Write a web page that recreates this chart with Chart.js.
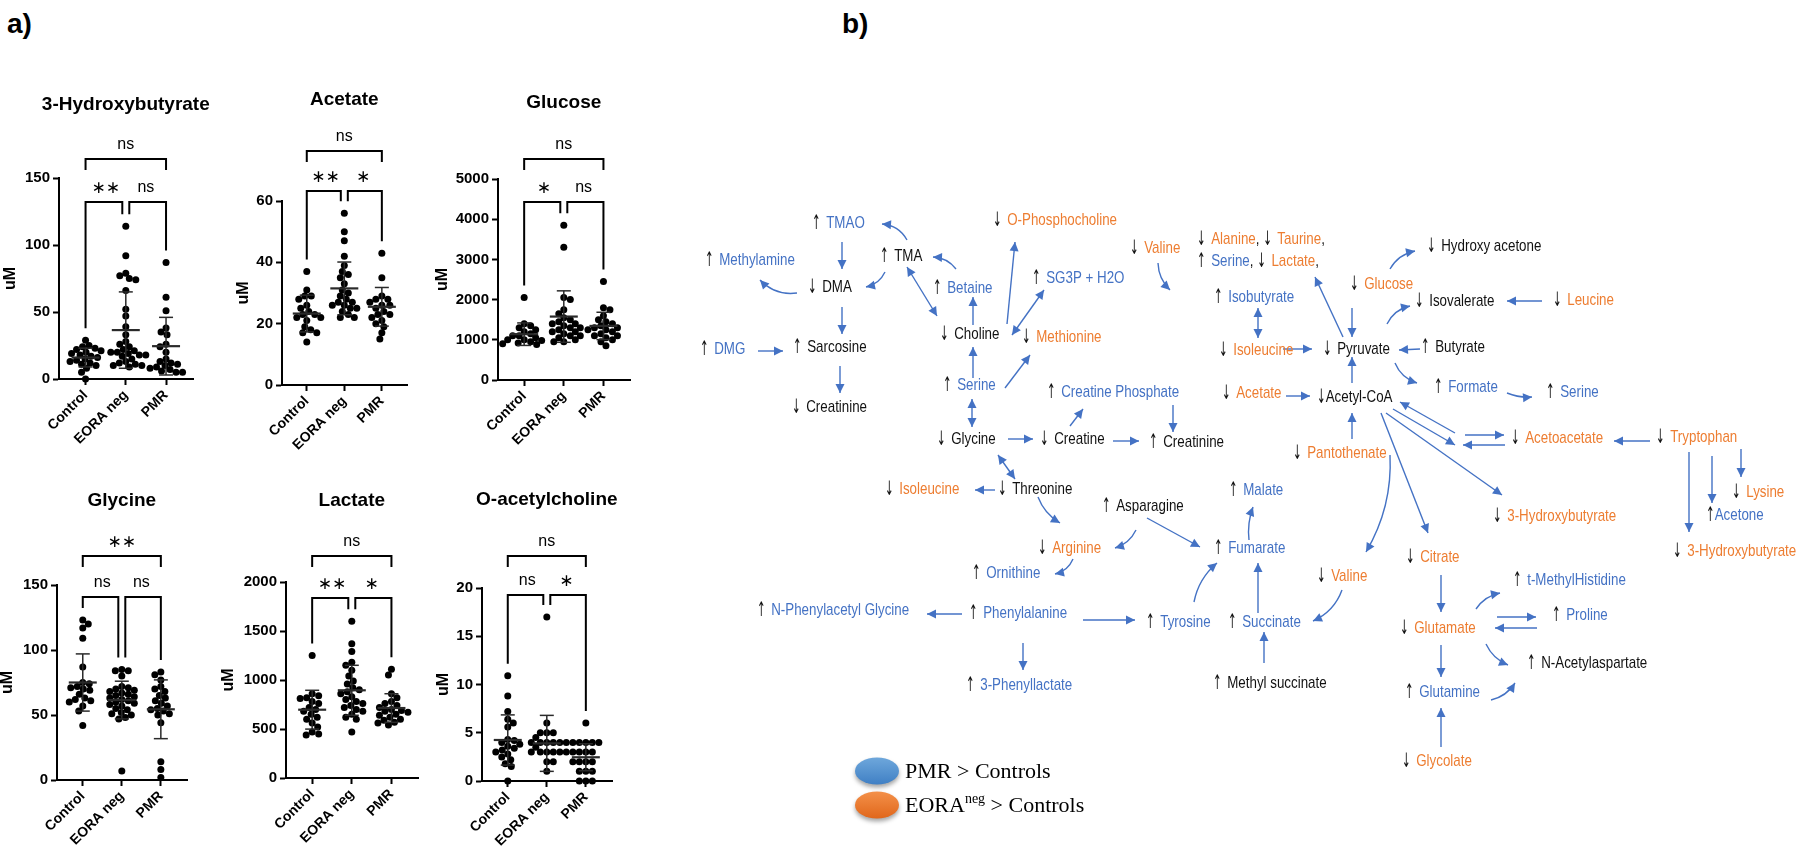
<!DOCTYPE html>
<html>
<head>
<meta charset="utf-8">
<script src="https://cdn.jsdelivr.net/npm/chart.js@4.4.0/dist/chart.umd.min.js"></script>
<style>
html, body { margin: 0; padding: 0; background: #fff; }
body { width: 1800px; height: 853px; position: relative; overflow: hidden; font-family: "Liberation Sans", Arial, sans-serif; }
.panel-tag { position: absolute; font-weight: bold; font-size: 28px; line-height: 30px; color: #000; }
canvas { position: absolute; }
</style>
</head>
<body>
<div class="panel-tag" style="left:7px; top:9px;">a)</div>
<div class="panel-tag" style="left:842px; top:9px;">b)</div>

<script>
/* ---------- panel a: dot plots ---------- */
const groupLabels = ['Control', 'EORA neg', 'PMR'];
const chartTitles = ['3-Hydroxybutyrate', 'Acetate', 'Glucose', 'Glycine', 'Lactate', 'O-acetylcholine'];

const hbControl = [29, 25, 24, 23, 22, 21, 20, 19, 18, 17, 16, 15, 14, 13, 12, 11, 10, 8, 5, 0];
const hbEora = [114, 92, 79, 77, 75, 74, 66, 52, 47, 39, 33, 28, 26, 24, 22, 21, 20, 20, 19, 18, 18, 17, 15, 13, 12, 11, 10, 10, 9];
const hbPmr = [87, 61, 51, 38, 35, 33, 26, 24, 20, 15, 13, 12, 11, 10, 9, 8, 7, 6, 5, 5];

const acetControl = [37, 31, 29, 29, 28, 26, 25, 24, 23, 23, 22, 22, 21, 19, 18, 17, 17, 14];
const acetEora = [56, 50, 47, 42, 39, 37, 36, 35, 33, 31, 30, 29, 28, 27, 27, 26, 26, 25, 25, 24, 23, 22, 22];
const acetPmr = [43, 35, 29, 28, 28, 27, 26, 26, 25, 24, 23, 23, 22, 21, 20, 19, 17, 15];

const glucControl = [2050, 1400, 1350, 1300, 1250, 1200, 1150, 1100, 1100, 1050, 1000, 1000, 980, 950, 920, 900, 880];
const glucEora = [3850, 3300, 2050, 2000, 1750, 1650, 1550, 1500, 1450, 1400, 1400, 1350, 1300, 1300, 1250, 1200, 1200, 1150, 1100, 1100, 1050, 1000, 950, 950];
const glucPmr = [2450, 1800, 1750, 1600, 1500, 1450, 1400, 1350, 1300, 1300, 1250, 1250, 1200, 1150, 1100, 1100, 1050, 1000, 950, 850];

const glyControl = [123, 120, 117, 109, 87, 75, 74, 72, 71, 70, 69, 66, 63, 62, 61, 60, 57, 53, 42];
const glyEora = [85, 84, 84, 80, 72, 71, 70, 69, 68, 67, 66, 65, 64, 63, 62, 61, 60, 59, 58, 57, 55, 54, 52, 51, 50, 48, 47, 7];
const glyPmr = [83, 81, 77, 72, 70, 68, 65, 63, 61, 59, 57, 55, 54, 53, 51, 50, 44, 14, 8, 2];

const lacControl = [1250, 860, 840, 820, 810, 780, 760, 720, 700, 680, 650, 620, 600, 560, 520, 470, 450, 440];
const lacEora = [1600, 1370, 1290, 1180, 1150, 1100, 1040, 990, 960, 920, 900, 880, 860, 830, 800, 780, 760, 740, 720, 700, 680, 650, 620, 600, 470];
const lacPmr = [1110, 1050, 860, 820, 780, 760, 740, 720, 700, 690, 680, 670, 650, 640, 620, 600, 590, 570, 560, 540];

const achControl = [10.9, 8.8, 7.2, 6.4, 6.0, 5.6, 4.3, 4.2, 4.0, 3.8, 3.6, 3.4, 3.2, 3.0, 2.8, 2.5, 2.2, 1.8, 1.5, 0];
const achEora = [17, 6, 5, 5, 5, 4.5, 4, 4, 4, 4, 4, 4, 3.5, 3, 3, 3, 3, 3, 3, 2, 2, 1];
const achPmr = [6, 4, 4, 4, 4, 4, 3, 3, 3, 3, 2, 2, 2, 2, 1, 1, 1, 0, 0, 0];

const groupMeans = [[16, 36.5, 24.5], [23.3, 31.5, 25.5], [1140, 1578, 1345], [75, 61.5, 54.4], [697, 895, 714], [4.25, 3.9, 2.46]];
const groupSds = [[7, 28.5, 21.5], [6, 8.6, 6.3], [280, 640, 340], [22, 14.5, 22.6], [198, 255, 146], [2.6, 2.9, 1.4]];

const yMaxes = [150, 60, 5000, 150, 2000, 20];
const ySteps = [50, 20, 1000, 50, 500, 5];

const sigTop = ['ns', 'ns', 'ns', '**', 'ns', 'ns'];
const sigLeft = ['**', '**', '*', 'ns', '**', 'ns'];
const sigRight = ['ns', '*', 'ns', 'ns', '*', '*'];

const allValues = [
  [hbControl, hbEora, hbPmr],
  [acetControl, acetEora, acetPmr],
  [glucControl, glucEora, glucPmr],
  [glyControl, glyEora, glyPmr],
  [lacControl, lacEora, lacPmr],
  [achControl, achEora, achPmr]
];

// layout (page px): plot area left, top, right, bottom
const plotBoxes = [
  [59, 178, 193, 379], [282, 201, 407, 385], [498, 179, 630, 380],
  [57, 585, 187, 780], [286, 582, 418, 778], [482, 588, 612, 781]
];
const yAxisWidth = [58, 48, 65, 59, 67, 48];
const titleY = [105, 100, 103, 501, 501, 500];
const bracketTop = [-19, -50, -20, -29, -26, -32];
const bracketInner = [24, -10, 23, 12, 16, 7];

const X_MIN = -0.66, X_MAX = 2.67;
const PAD_TOP = 115, PAD_RIGHT = 30, X_AXIS_H = 70;
const DOT_R = 3.5;

Chart.defaults.font.family = '"Liberation Sans", Arial, sans-serif';
Chart.defaults.color = '#000';

// spread points sideways so they do not overlap (like a prism scatter)
function swarmOffsets(values, pxPerUnit, pxPerCat) {
  const placed = [];
  const out = new Array(values.length);
  const order = values.map((v, i) => i).sort((a, b) => values[b] - values[a]);
  const minDist = 2 * DOT_R - 0.6;
  for (const i of order) {
    const yp = values[i] * pxPerUnit;
    let chosen = 0;
    for (let k = 0; k < 80; k++) {
      const step = k * 0.5;
      const cands = k === 0 ? [0] : (k % 2 ? [step, -step] : [-step, step]);
      const ok = cands.find(c => placed.every(p => Math.hypot(p.x - c, p.y - yp) >= minDist));
      if (ok !== undefined) { chosen = ok; break; }
    }
    placed.push({ x: chosen, y: yp });
    out[i] = chosen / pxPerCat;
  }
  return out;
}

function drawLine(ctx, pts) {
  ctx.beginPath();
  ctx.moveTo(pts[0][0], pts[0][1]);
  for (let k = 1; k < pts.length; k++) ctx.lineTo(pts[k][0], pts[k][1]);
  ctx.stroke();
}

function drawSig(ctx, text, x, y) {
  if (text.includes('*')) {
    ctx.font = '17px "DejaVu Sans", sans-serif';
    ctx.fillText(text.replace(/\*/g, '\u2217'), x, y + 1);
  } else {
    ctx.font = '16px "Liberation Sans", Arial, sans-serif';
    ctx.fillText(text, x, y);
  }
}

const dotExtras = {
  id: 'dotExtras',
  afterDatasetsDraw(chart, args, opts) {
    const i = opts.index;
    const ctx = chart.ctx, xs = chart.scales.x, ys = chart.scales.y, area = chart.chartArea;
    const cx = [0, 1, 2].map(g => xs.getPixelForValue(g));
    ctx.save();
    ctx.lineCap = 'butt';

    // mean +/- SD
    ctx.strokeStyle = '#2a2a2a';
    for (let g = 0; g < 3; g++) {
      const m = groupMeans[i][g], s = groupSds[i][g];
      const yT = ys.getPixelForValue(m + s), yB = ys.getPixelForValue(Math.max(m - s, 0));
      const yM = ys.getPixelForValue(m);
      ctx.lineWidth = 1.5;
      drawLine(ctx, [[cx[g], yT], [cx[g], yB]]);
      drawLine(ctx, [[cx[g] - 7, yT], [cx[g] + 7, yT]]);
      drawLine(ctx, [[cx[g] - 7, yB], [cx[g] + 7, yB]]);
      ctx.lineWidth = 2.2;
      drawLine(ctx, [[cx[g] - 14, yM], [cx[g] + 14, yM]]);
    }

    // significance brackets
    ctx.strokeStyle = '#000';
    ctx.fillStyle = '#000';
    ctx.lineWidth = 2;
    ctx.textAlign = 'center';
    ctx.textBaseline = 'middle';
    const topY = area.top + bracketTop[i];
    const inY = area.top + bracketInner[i];
    const legEnd = g => Math.max(ys.getPixelForValue(Math.max(...allValues[i][g])) - 12, inY + 6);
    const gap = 3.5;
    drawLine(ctx, [[cx[0], topY + 11], [cx[0], topY], [cx[2], topY], [cx[2], topY + 11]]);
    drawLine(ctx, [[cx[0], legEnd(0)], [cx[0], inY], [cx[1] - gap, inY], [cx[1] - gap, legEnd(1)]]);
    drawLine(ctx, [[cx[1] + gap, legEnd(1)], [cx[1] + gap, inY], [cx[2], inY], [cx[2], legEnd(2)]]);
    drawSig(ctx, sigTop[i], (cx[0] + cx[2]) / 2, topY - 14);
    drawSig(ctx, sigLeft[i], (cx[0] + cx[1]) / 2, inY - 14);
    drawSig(ctx, sigRight[i], (cx[1] + cx[2]) / 2, inY - 14);

    // title
    ctx.font = 'bold 19px "Liberation Sans", Arial, sans-serif';
    ctx.fillText(chartTitles[i], cx[1], area.top + (titleY[i] - plotBoxes[i][1]));
    ctx.restore();
  }
};

function makeDotChart(i) {
  const [l, t, r, b] = plotBoxes[i];
  const yw = yAxisWidth[i];
  const cw = r - l + yw + PAD_RIGHT, ch = b - t + PAD_TOP + X_AXIS_H;
  const canvas = document.createElement('canvas');
  canvas.width = cw; canvas.height = ch;
  canvas.style.left = (l - yw) + 'px';
  canvas.style.top = (t - PAD_TOP) + 'px';
  canvas.style.width = cw + 'px';
  canvas.style.height = ch + 'px';
  document.body.appendChild(canvas);

  const pxPerUnit = (b - t) / yMaxes[i];
  const pxPerCat = (r - l) / (X_MAX - X_MIN);
  const datasets = allValues[i].map((vals, g) => {
    const off = swarmOffsets(vals, pxPerUnit, pxPerCat);
    return {
      label: groupLabels[g],
      data: vals.map((v, k) => ({ x: g + off[k], y: v })),
      pointRadius: DOT_R,
      pointBackgroundColor: '#000',
      pointBorderWidth: 0,
      clip: false
    };
  });

  new Chart(canvas.getContext('2d'), {
    type: 'scatter',
    data: { datasets: datasets },
    options: {
      responsive: false,
      animation: false,
      devicePixelRatio: 1,
      layout: { padding: { top: PAD_TOP, right: PAD_RIGHT, left: 0, bottom: 0 } },
      scales: {
        x: {
          type: 'linear',
          min: X_MIN,
          max: X_MAX,
          afterBuildTicks: s => { s.ticks = [0, 1, 2].map(v => ({ value: v })); },
          afterFit: s => { s.height = X_AXIS_H; },
          grid: { drawOnChartArea: false, drawTicks: true, tickLength: 6, tickWidth: 2, tickColor: '#000' },
          border: { color: '#000', width: 2 },
          ticks: {
            autoSkip: false,
            maxRotation: 45,
            minRotation: 45,
            padding: 2,
            color: '#000',
            font: { size: 14, weight: 'bold' },
            callback: v => groupLabels[v]
          }
        },
        y: {
          min: 0,
          max: yMaxes[i],
          afterFit: s => { s.width = yw; },
          grid: { drawOnChartArea: false, drawTicks: true, tickLength: 6, tickWidth: 2, tickColor: '#000' },
          border: { color: '#000', width: 2 },
          ticks: {
            stepSize: ySteps[i],
            padding: 3,
            color: '#000',
            font: { size: 15, weight: 'bold' },
            callback: v => String(v)
          },
          title: { display: true, text: 'uM', color: '#000', padding: 0, font: { size: 16, weight: 'bold' } }
        }
      },
      plugins: {
        legend: { display: false },
        tooltip: { enabled: false },
        dotExtras: { index: i }
      }
    },
    plugins: [dotExtras]
  });
}

for (let i = 0; i < 6; i++) makeDotChart(i);

/* ---------- panel b: pathway map ---------- */
// node labels: arrow + metabolite, colour codes per metabolite name (b = PMR, o = EORAneg, k = none)
const nodeText = [
  '↑ TMAO', '↑ Methylamine', '↑ TMA', '↓ DMA', '↑ Betaine', '↓ O-Phosphocholine', '↑ SG3P + H2O',
  '↓ Choline', '↓ Methionine', '↑ DMG', '↑ Sarcosine', '↑ Serine', '↓ Creatinine', '↓ Glycine',
  '↓ Creatine', '↑ Creatine Phosphate', '↑ Creatinine', '↓ Isoleucine', '↓ Threonine', '↓ Valine',
  '↓ Alanine, ↓ Taurine,', '↑ Serine, ↓ Lactate,', '↓ Glucose', '↑ Isobutyrate', '↓ Isoleucine',
  '↓ Pyruvate', '↓ Acetate', '↓Acetyl-CoA', '↓ Pantothenate', '↑ Malate', '↓ Hydroxy acetone',
  '↓ Isovalerate', '↓ Leucine', '↑ Butyrate', '↑ Formate', '↑ Serine', '↓ Acetoacetate',
  '↓ Tryptophan', '↓ Lysine', '↑Acetone', '↓ 3-Hydroxybutyrate', '↓ 3-Hydroxybutyrate', '↓ Citrate',
  '↑ t-MethylHistidine', '↑ Proline', '↓ Glutamate', '↑ N-Acetylaspartate', '↑ Glutamine',
  '↓ Glycolate', '↓ Arginine', '↑ Ornithine', '↑ N-Phenylacetyl Glycine', '↑ Phenylalanine',
  '↑ 3-Phenyllactate', '↑ Asparagine', '↑ Fumarate', '↑ Tyrosine', '↑ Succinate',
  '↑ Methyl succinate', '↓ Valine'
];
const nodeColor = [
  'b', 'b', 'k', 'k', 'b', 'o', 'b',
  'k', 'o', 'b', 'k', 'b', 'k', 'k',
  'k', 'b', 'k', 'o', 'k', 'o',
  'oo', 'bo', 'o', 'b', 'o',
  'k', 'o', 'k', 'o', 'b', 'k',
  'k', 'o', 'k', 'b', 'b', 'o',
  'o', 'o', 'b', 'o', 'o', 'o',
  'b', 'b', 'o', 'k', 'b',
  'o', 'o', 'b', 'b', 'b',
  'b', 'k', 'b', 'b', 'b',
  'k', 'o'
];
const nodeX = [
  812, 705, 880, 808, 933, 993, 1032,
  940, 1022, 700, 793, 943, 792, 937,
  1040, 1047, 1149, 885, 998, 1130,
  1197, 1197, 1350, 1214, 1219,
  1323, 1222, 1317, 1293, 1229, 1427,
  1415, 1553, 1421, 1434, 1546, 1511,
  1656, 1732, 1706, 1673, 1493, 1406,
  1513, 1552, 1400, 1527, 1405,
  1402, 1038, 972, 757, 969,
  966, 1102, 1214, 1146, 1228,
  1213, 1317
];
const nodeY = [
  223, 260, 256, 287, 288, 220, 278,
  334, 337, 349, 347, 385, 407, 439,
  439, 392, 442, 489, 489, 248,
  239, 261, 284, 297, 350,
  349, 393, 397, 453, 490, 246,
  301, 300, 347, 387, 392, 438,
  437, 492, 515, 551, 516, 557,
  580, 615, 628, 663, 692,
  761, 548, 573, 610, 613,
  685, 506, 548, 622, 622,
  683, 576
];

// arrows: from (x1, y1) to (x2, y2), bend of the curve, double-headed
const arrowX1 = [907, 885, 797, 956, 1158, 1390, 1387, 1395, 1507, 1476, 1486, 1491, 1038, 1073, 1136, 1249, 1194, 1342, 1390,
  842, 907, 973, 1007, 1012, 842, 758, 840, 973, 1005, 972, 1008, 998, 995,
  1258, 1283, 1352, 1343, 1352, 1286, 1352, 1070, 1173, 1113, 1420, 1542,
  1455, 1393, 1386, 1381, 1465, 1505, 1650, 1689, 1712, 1741,
  1441, 1497, 1537, 1441, 1441, 962, 1023, 1147, 1083, 1258, 1264];
const arrowY1 = [240, 272, 293, 269, 263, 269, 324, 363, 393, 609, 644, 700, 497, 559, 530, 540, 602, 590, 455,
  242, 267, 325, 324, 335, 307, 351, 366, 378, 388, 399, 439, 455, 490,
  308, 349, 308, 337, 383, 396, 439, 426, 405, 441, 349, 301,
  433, 409, 413, 413, 435, 445, 441, 452, 456, 449,
  575, 617, 628, 645, 747, 614, 643, 518, 620, 613, 663];
const arrowX2 = [882, 866, 760, 933, 1170, 1415, 1410, 1417, 1532, 1500, 1508, 1515, 1060, 1055, 1115, 1253, 1217, 1313, 1366,
  842, 937, 973, 1015, 1044, 842, 783, 840, 973, 1030, 972, 1033, 1015, 975,
  1258, 1312, 1352, 1315, 1352, 1310, 1352, 1083, 1173, 1139, 1399, 1507,
  1400, 1455, 1502, 1428, 1504, 1463, 1614, 1689, 1712, 1741,
  1441, 1536, 1495, 1441, 1441, 927, 1023, 1200, 1135, 1258, 1264];
const arrowY2 = [224, 287, 280, 257, 290, 251, 306, 383, 397, 593, 665, 683, 523, 574, 548, 507, 563, 621, 552,
  269, 316, 297, 242, 290, 334, 351, 393, 347, 355, 427, 439, 479, 490,
  338, 349, 337, 277, 357, 396, 413, 409, 432, 441, 350, 301,
  402, 445, 495, 533, 435, 445, 441, 532, 503, 477,
  612, 617, 628, 677, 708, 614, 670, 547, 620, 563, 632];
const arrowBend = [8, -6, -10, 6, 6, -7, -7, 7, 3, -6, 6, 6, 6, -6, -6, -4, -8, -9, -15,
  0, 0, 0, 0, 0, 0, 0, 0, 0, 0, 0, 0, 0, 0,
  0, 0, 0, 0, 0, 0, 0, 0, 0, 0, 0, 0,
  0, 0, 0, 0, 0, 0, 0, 0, 0, 0,
  0, 0, 0, 0, 0, 0, 0, 0, 0, 0, 0];
const arrowBoth = [0, 0, 0, 0, 0, 0, 0, 0, 0, 0, 0, 0, 0, 0, 0, 0, 0, 0, 0,
  0, 1, 0, 0, 1, 0, 0, 0, 0, 0, 1, 0, 1, 0,
  1, 0, 0, 0, 0, 0, 0, 0, 0, 0, 0, 0,
  0, 0, 0, 0, 0, 0, 0, 0, 0, 0,
  0, 0, 0, 0, 0, 0, 0, 0, 0, 0, 0];

const legendText = ['PMR > Controls', 'EORA|neg| > Controls'];
const legendColors = [['#6FA8DC', '#3F7FC4'], ['#F4914A', '#E0661A']];
const legendX = [877, 877];
const legendY = [771, 805];

const COLORS = { b: '#4472C4', o: '#ED7D31', k: '#111111' };
const LINK_COLOR = '#4472C4';
const NODE_FONT = '17px "Liberation Sans", Arial, sans-serif';
const NODE_SQUEEZE = 0.785;
const SYMBOL_FONT = '20px "DejaVu Sans", sans-serif';
const SYMBOL_SQUEEZE = 0.52;

function arrowHead(ctx, tx, ty, fx, fy) {
  const a = Math.atan2(ty - fy, tx - fx), L = 9, W = 4.5;
  const bx = tx - L * Math.cos(a), by = ty - L * Math.sin(a);
  ctx.beginPath();
  ctx.moveTo(tx, ty);
  ctx.lineTo(bx + W * Math.sin(a), by - W * Math.cos(a));
  ctx.lineTo(bx - W * Math.sin(a), by + W * Math.cos(a));
  ctx.closePath();
  ctx.fill();
}

// draws horizontally condensed text, returns advance width
function squeezedText(ctx, text, x, y, font, sx) {
  ctx.save();
  ctx.font = font;
  ctx.translate(x, y);
  ctx.scale(sx, 1);
  ctx.fillText(text, 0, 0);
  const w = ctx.measureText(text).width * sx;
  ctx.restore();
  return w;
}

const pathway = {
  id: 'pathway',
  afterDatasetsDraw(chart) {
    const ctx = chart.ctx, xs = chart.scales.x, ys = chart.scales.y;
    const px = v => xs.getPixelForValue(v), py = v => ys.getPixelForValue(v);
    ctx.save();

    // links
    ctx.strokeStyle = LINK_COLOR;
    ctx.fillStyle = LINK_COLOR;
    ctx.lineWidth = 1.4;
    for (let k = 0; k < arrowX1.length; k++) {
      const x1 = px(arrowX1[k]), y1 = py(arrowY1[k]), x2 = px(arrowX2[k]), y2 = py(arrowY2[k]);
      const bend = arrowBend[k];
      const len = Math.hypot(x2 - x1, y2 - y1);
      const cx = (x1 + x2) / 2 - (y2 - y1) / len * bend;
      const cy = (y1 + y2) / 2 + (x2 - x1) / len * bend;
      ctx.beginPath();
      ctx.moveTo(x1, y1);
      if (bend) ctx.quadraticCurveTo(cx, cy, x2, y2); else ctx.lineTo(x2, y2);
      ctx.stroke();
      arrowHead(ctx, x2, y2, bend ? cx : x1, bend ? cy : y1);
      if (arrowBoth[k]) arrowHead(ctx, x1, y1, bend ? cx : x2, bend ? cy : y2);
    }

    // labels
    ctx.textAlign = 'left';
    ctx.textBaseline = 'middle';
    for (let k = 0; k < nodeText.length; k++) {
      let x = px(nodeX[k]);
      const y = py(nodeY[k]);
      const parts = nodeText[k].split(/([↑↓]\s*|,\s*)/).filter(s => s.length);
      let c = 0;
      for (const part of parts) {
        if (/^[↑↓]/.test(part)) {
          ctx.fillStyle = COLORS.k;
          x += squeezedText(ctx, part[0], x, y + 0.5, SYMBOL_FONT, SYMBOL_SQUEEZE);
          if (part.length > 1) x += 5.5;
        } else if (/^,/.test(part)) {
          ctx.fillStyle = COLORS.k;
          x += squeezedText(ctx, part, x, y, NODE_FONT, NODE_SQUEEZE);
        } else {
          ctx.fillStyle = COLORS[nodeColor[k][Math.min(c, nodeColor[k].length - 1)]];
          c++;
          x += squeezedText(ctx, part, x, y, NODE_FONT, NODE_SQUEEZE);
        }
      }
    }

    // legend
    for (let k = 0; k < legendText.length; k++) {
      const ex = px(legendX[k]), ey = py(legendY[k]);
      const grad = ctx.createLinearGradient(ex, ey - 14, ex, ey + 14);
      grad.addColorStop(0, legendColors[k][0]);
      grad.addColorStop(1, legendColors[k][1]);
      ctx.save();
      ctx.shadowColor = 'rgba(0,0,0,0.35)';
      ctx.shadowBlur = 4;
      ctx.shadowOffsetY = 3;
      ctx.fillStyle = grad;
      ctx.beginPath();
      ctx.ellipse(ex, ey, 22, 13.5, 0, 0, Math.PI * 2);
      ctx.fill();
      ctx.restore();

      ctx.fillStyle = '#000';
      let tx = ex + 28;
      legendText[k].split('|').forEach((piece, j) => {
        if (j % 2) {
          ctx.font = '14px "Liberation Serif", "Times New Roman", serif';
          ctx.fillText(piece, tx, ey - 6);
        } else {
          ctx.font = '22px "Liberation Serif", "Times New Roman", serif';
          ctx.fillText(piece, tx, ey + 1);
        }
        tx += ctx.measureText(piece).width;
      });
    }
    ctx.restore();
  }
};

(function makePathway() {
  const left = 680, top = 170, w = 1120, h = 683;
  const canvas = document.createElement('canvas');
  canvas.width = w; canvas.height = h;
  canvas.style.left = left + 'px';
  canvas.style.top = top + 'px';
  canvas.style.width = w + 'px';
  canvas.style.height = h + 'px';
  document.body.appendChild(canvas);
  new Chart(canvas.getContext('2d'), {
    type: 'scatter',
    data: {
      datasets: [{
        label: 'metabolites',
        data: nodeX.map((x, k) => ({ x: x, y: nodeY[k] })),
        pointRadius: 0
      }]
    },
    options: {
      responsive: false,
      animation: false,
      devicePixelRatio: 1,
      layout: { padding: 0 },
      scales: {
        x: { type: 'linear', display: false, min: left, max: left + w },
        y: { type: 'linear', display: false, min: top, max: top + h, reverse: true }
      },
      plugins: { legend: { display: false }, tooltip: { enabled: false } }
    },
    plugins: [pathway]
  });
})();
</script>
</body>
</html>
